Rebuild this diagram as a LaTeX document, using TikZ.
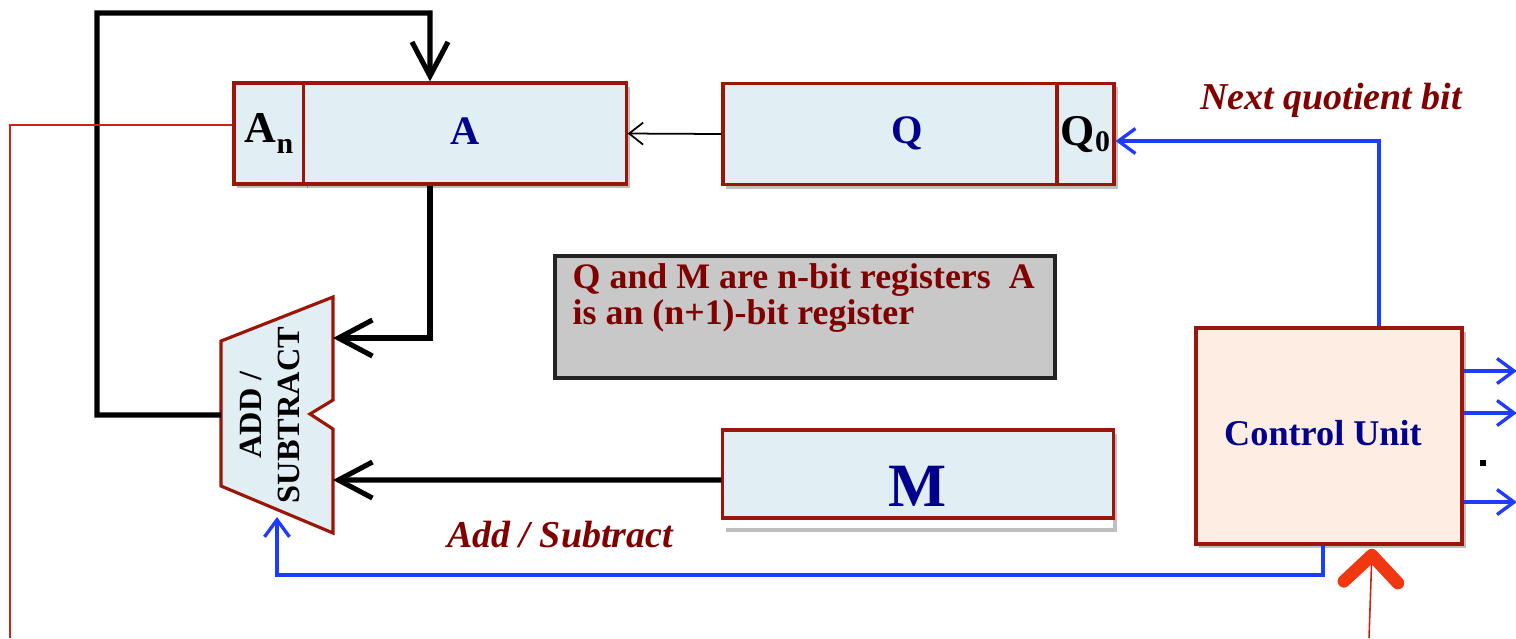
\documentclass[tikz,border=0pt]{standalone}
\usepackage{fontspec}
\setmainfont{Liberation Serif}
\usetikzlibrary{arrows.meta,shadows}
\definecolor{regfill}{RGB}{225,239,245}
\definecolor{regline}{RGB}{155,22,8}
\definecolor{navy}{RGB}{0,0,140}
\definecolor{maroon}{RGB}{128,0,0}
\definecolor{sigblue}{RGB}{30,60,255}
\definecolor{wirered}{RGB}{205,35,20}
\definecolor{chev}{RGB}{240,55,15}
\definecolor{cufill}{RGB}{253,237,226}
\definecolor{notefill}{RGB}{200,200,200}
\definecolor{notedraw}{RGB}{35,35,35}
\begin{document}
\begin{tikzpicture}[x=0.01cm,y=-0.01cm,
  softshadow/.style={drop shadow={shadow xshift=0.035cm,shadow yshift=-0.04cm,fill=black,opacity=0.25}},
  reg/.style={draw=regline,line width=0.9pt,fill=regfill,inner sep=0pt,softshadow},
  reglabel/.style={font=\fontsize{11.5}{13}\selectfont\bfseries,text=navy},
  lbl/.style={font=\fontsize{10.8}{12}\selectfont\bfseries\itshape,text=maroon},
  bus/.style={line width=1.45pt,black,-{Straight Barb[length=0.34cm,width=0.36cm]}},
  thinbus/.style={line width=0.5pt,black,-{Straight Barb[length=0.14cm,width=0.22cm]}},
  ctl/.style={line width=0.95pt,sigblue,-{Straight Barb[length=0.17cm,width=0.25cm]}},
  redwire/.style={line width=0.45pt,wirered}]
\useasboundingbox (0,0) rectangle (1516,638);

% registers A (with sign bit A_n), Q (with Q_0) and M
\node[reg,minimum width=0.70cm,minimum height=1.01cm] (an) at (269,133.5)
  {\fontsize{12.5}{13}\selectfont\bfseries A\raisebox{-0.55ex}{\fontsize{8.5}{9}\selectfont n}};
\node[reg,minimum width=3.22cm,minimum height=1.01cm] (areg) at (465,133.5) {};
\node[reglabel] (alabel) at (465,131) {A};
\node[reg,minimum width=3.34cm,minimum height=1.01cm] (qreg) at (890,134) {};
\node[reglabel] (qlabel) at (907,133) {Q};
\node[reg,minimum width=0.57cm,minimum height=1.01cm] (q0) at (1085.5,134)
  {\fontsize{12.5}{13}\selectfont\bfseries Q\raisebox{-0.3ex}{\fontsize{8.5}{9}\selectfont 0}};

\node[fill=white,inner sep=0pt,minimum width=3.90cm,minimum height=0.98cm,softshadow] (mbg) at (918,479) {};
\node[draw=regline,line width=0.9pt,fill=regfill,inner sep=0pt,minimum width=3.90cm,minimum height=0.88cm] (mreg) at (918,474) {};
\node[font=\fontsize{17.5}{19}\selectfont\bfseries,text=navy] (mlabel) at (918,486) {M};

% note
\node[draw=notedraw,line width=1.1pt,fill=notefill,inner sep=0pt,minimum width=5.0cm,minimum height=1.22cm] (note) at (805,317) {};
\node[anchor=north west,inner sep=0pt,align=left,text=maroon,
      font=\fontsize{10.2}{7.6}\selectfont\bfseries] (notetext) at (572,263)
  {Q and M are n-bit registers\ \ A\\is an (n+1)-bit register};

% control unit
\node[draw=regline,line width=1pt,fill=cufill,minimum width=2.66cm,minimum height=2.16cm,softshadow] (cu) at (1329,436) {};
\node[font=\fontsize{10.3}{12}\selectfont\bfseries,text=navy] (culabel) at (1323,433) {Control Unit};

% adder / subtractor
\draw[draw=regline,line width=0.9pt,fill=regfill,line join=miter]
  (333,297) -- (221,341) -- (221,486) -- (333,533) -- (333,429) -- (310,414) -- (333,400) -- cycle;
\node[rotate=90,align=center,font=\fontsize{9.2}{10.8}\selectfont\bfseries] (alu) at (270,415) {ADD /\\SUBTRACT};
\coordinate (alu-a) at (333,338);
\coordinate (alu-m) at (333,480);
\coordinate (alu-fb) at (221,415);
\coordinate (alu-ctl) at (277,517);

% data paths
\draw[bus] (alu-fb) -- (97,415) -- (97,13) -- (430,13) -- ([xshift=-0.35cm]areg.north);
\draw[bus] ([xshift=-0.35cm]areg.south) |- (alu-a);
\draw[bus] ([yshift=-0.06cm]mreg.west) -- (alu-m);
\draw[thinbus] (qreg.west) -- (areg.east);

% control signals
\draw[ctl] ([xshift=0.5cm]cu.north) |- ([yshift=-0.07cm]q0.east);
\draw[ctl] ([xshift=-0.06cm]cu.south) -- ++(0,29) -| (alu-ctl);
\draw[ctl] ([yshift=0.65cm]cu.east) -- ++(53,0);
\draw[ctl] ([yshift=0.23cm]cu.east) -- ++(53,0);
\draw[ctl] ([yshift=-0.66cm]cu.east) -- ++(53,0);
\node[fill=black,inner sep=0pt,minimum size=0.055cm] (dots) at (1483,463) {};

% sign bit to control, and external start signal
\coordinate (signend) at (10,638);
\draw[redwire] ([yshift=0.085cm]an.west) -- (10,125) -- (signend);
\coordinate (startin) at (1369,638);
\draw[redwire,-{Straight Barb[length=0.27cm,width=0.54cm,line width=3.6pt,round,color=chev]}]
  (startin) -- ([xshift=0.43cm,yshift=-0.03cm]cu.south);

% labels
\node[lbl] (nqb) at (1331,100) {Next quotient bit};
\node[lbl] (addsub) at (560,535) {Add / Subtract};
\end{tikzpicture}
\end{document}
